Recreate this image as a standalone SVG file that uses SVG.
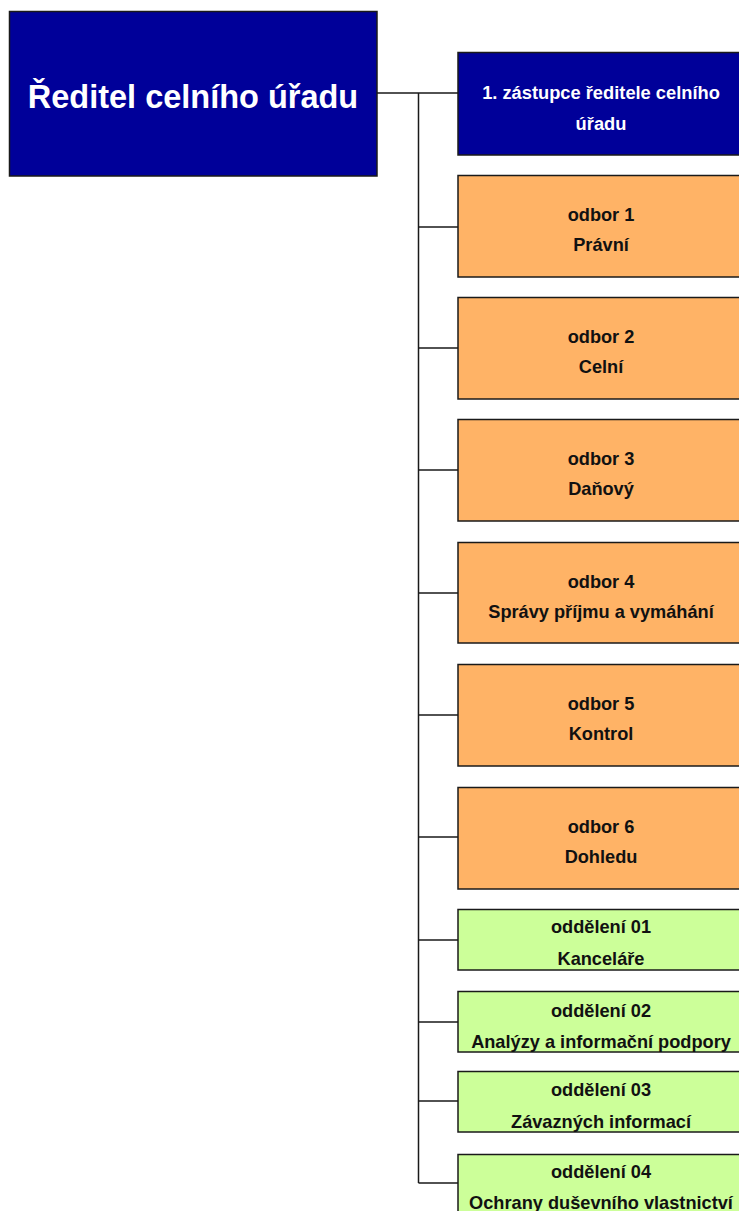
<svg xmlns="http://www.w3.org/2000/svg" width="739" height="1211" viewBox="0 0 739 1211">
<style>
.box{stroke:#1a1a1a;stroke-width:1.5}
.navy{fill:#000099}
.orange{fill:#FFB366}
.green{fill:#CCFF99}
text{font-family:"Liberation Sans",Arial,sans-serif;font-weight:bold;text-anchor:middle}
.w{fill:#ffffff}
.k{fill:#111111;font-size:18.2px}
.conn{stroke:#1a1a1a;stroke-width:1.5;fill:none}
</style>
<rect width="739" height="1211" fill="#ffffff"/>
<g id="connectors">
<path class="conn" d="M377 93 H458 M418.5 93 V1183"/>
<path class="conn" d="M418.5 227 H458 M418.5 348 H458 M418.5 470 H458 M418.5 593 H458 M418.5 715 H458 M418.5 837 H458 M418.5 940 H458 M418.5 1022 H458 M418.5 1101 H458 M418.5 1183 H458"/>
</g>
<g id="director">
<rect class="box navy" x="9.5" y="11.5" width="367.5" height="164.5"/>
<text class="w" x="193" y="108" font-size="32.5">Ředitel celního úřadu</text>
</g>
<g id="deputy">
<rect class="box navy" x="458" y="52.5" width="284" height="102.5"/>
<text class="w" x="601" y="99" font-size="18.3">1. zástupce ředitele celního</text>
<text class="w" x="601" y="130" font-size="18.3">úřadu</text>
</g>
<g id="odbor1">
<rect class="box orange" x="458" y="175.5" width="284" height="101.5"/>
<text class="k" x="601" y="220.5">odbor 1</text>
<text class="k" x="601" y="250.5">Právní</text>
</g>
<g id="odbor2">
<rect class="box orange" x="458" y="297.5" width="284" height="101.5"/>
<text class="k" x="601" y="342.5">odbor 2</text>
<text class="k" x="601" y="372.5">Celní</text>
</g>
<g id="odbor3">
<rect class="box orange" x="458" y="419.5" width="284" height="101.5"/>
<text class="k" x="601" y="464.5">odbor 3</text>
<text class="k" x="601" y="494.5">Daňový</text>
</g>
<g id="odbor4">
<rect class="box orange" x="458" y="542.5" width="284" height="100.5"/>
<text class="k" x="601" y="587.5">odbor 4</text>
<text class="k" x="601" y="617.5">Správy příjmu a vymáhání</text>
</g>
<g id="odbor5">
<rect class="box orange" x="458" y="664.5" width="284" height="101.5"/>
<text class="k" x="601" y="709.5">odbor 5</text>
<text class="k" x="601" y="739.5">Kontrol</text>
</g>
<g id="odbor6">
<rect class="box orange" x="458" y="787.5" width="284" height="101.5"/>
<text class="k" x="601" y="832.5">odbor 6</text>
<text class="k" x="601" y="862.5">Dohledu</text>
</g>
<g id="oddeleni01">
<rect class="box green" x="458" y="909.5" width="284" height="60.5"/>
<text class="k" x="601" y="932.5">oddělení 01</text>
<text class="k" x="601" y="964.5">Kanceláře</text>
</g>
<g id="oddeleni02">
<rect class="box green" x="458" y="991.5" width="284" height="60.5"/>
<text class="k" x="601" y="1016.5">oddělení 02</text>
<text class="k" x="601" y="1047.5">Analýzy a informační podpory</text>
</g>
<g id="oddeleni03">
<rect class="box green" x="458" y="1071.5" width="284" height="60.5"/>
<text class="k" x="601" y="1095.5">oddělení 03</text>
<text class="k" x="601" y="1127.5">Závazných informací</text>
</g>
<g id="oddeleni04">
<rect class="box green" x="458" y="1154.5" width="284" height="70"/>
<text class="k" x="601" y="1177.5">oddělení 04</text>
<text class="k" x="601" y="1208.5">Ochrany duševního vlastnictví</text>
</g>
</svg>
